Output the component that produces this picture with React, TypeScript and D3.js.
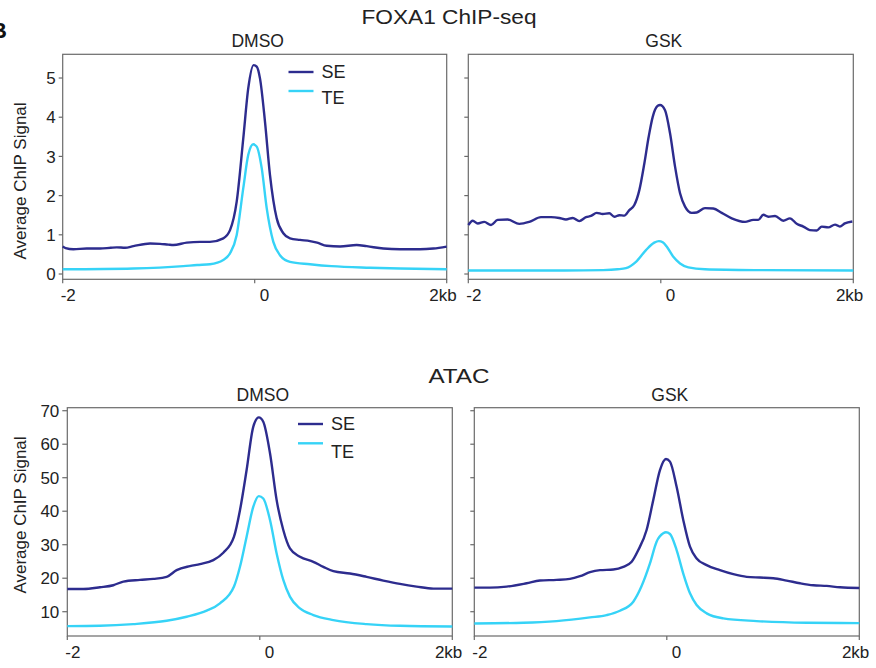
import React from "react";
import * as d3 from "d3";

// ---------- DATA ----------
const xTicks = [-2, 0, 2];
const xTickLabels = ["-2", "0", "2kb"];
const foxaTicks = [0, 1, 2, 3, 4, 5];
const atacTicks = [10, 20, 30, 40, 50, 60, 70];
const seriesNames = ["SE", "TE"];

const foxaDmsoSE: [number, number][] = [
  [-2.0, 0.70], [-1.97, 0.66], [-1.889, 0.63], [-1.75, 0.65], [-1.611, 0.65], [-1.5, 0.67],
  [-1.4375, 0.68], [-1.35, 0.67], [-1.264, 0.71], [-1.09, 0.78], [-0.986, 0.77], [-0.9, 0.75],
  [-0.847, 0.74], [-0.708, 0.80], [-0.569, 0.82], [-0.466, 0.82], [-0.327, 0.91], [-0.257, 1.12],
  [-0.188, 1.84], [-0.119, 3.46], [-0.067, 4.74], [-0.012, 5.33], [0.021, 5.29], [0.055, 4.99],
  [0.107, 3.89], [0.159, 2.53], [0.229, 1.42], [0.298, 1.04], [0.368, 0.91], [0.472, 0.87],
  [0.576, 0.84], [0.65, 0.80], [0.75, 0.72], [0.889, 0.70], [1.0625, 0.74], [1.167, 0.71],
  [1.34, 0.65], [1.514, 0.63], [1.722, 0.63], [1.861, 0.65], [2.0, 0.70],
];
const foxaDmsoTE: [number, number][] = [
  [-2, 0.12], [-1.264, 0.14], [-0.743, 0.20], [-0.6, 0.23], [-0.466, 0.25], [-0.327, 0.36],
  [-0.257, 0.53], [-0.188, 0.99], [-0.119, 2.19], [-0.067, 3.04], [-0.015, 3.31], [0.021, 3.25],
  [0.073, 2.70], [0.125, 1.68], [0.194, 0.82], [0.263, 0.48], [0.368, 0.31], [0.576, 0.25],
  [0.8, 0.20], [1.2, 0.16], [1.514, 0.14], [2, 0.12],
];
const foxaGskSE: [number, number][] = [
  [-2.0, 1.25], [-1.954, 1.36], [-1.902, 1.29], [-1.834, 1.33], [-1.764, 1.25], [-1.695, 1.38],
  [-1.591, 1.39], [-1.47, 1.28], [-1.366, 1.33], [-1.245, 1.45], [-1.141, 1.45], [-1.055, 1.43],
  [-0.985, 1.39], [-0.915, 1.43], [-0.847, 1.35], [-0.777, 1.45], [-0.725, 1.48], [-0.666, 1.56],
  [-0.604, 1.53], [-0.535, 1.55], [-0.483, 1.46], [-0.431, 1.50], [-0.379, 1.49], [-0.327, 1.63],
  [-0.275, 1.76], [-0.223, 2.14], [-0.171, 2.82], [-0.126, 3.50], [-0.084, 4.01], [-0.032, 4.29],
  [-0.008, 4.31], [0.044, 4.18], [0.096, 3.59], [0.148, 2.74], [0.2, 2.06], [0.252, 1.72],
  [0.321, 1.56], [0.373, 1.57], [0.459, 1.68], [0.545, 1.67], [0.633, 1.56], [0.737, 1.42],
  [0.875, 1.33], [0.961, 1.38], [1.013, 1.38], [1.065, 1.51], [1.117, 1.46], [1.187, 1.48],
  [1.273, 1.36], [1.342, 1.42], [1.412, 1.28], [1.481, 1.21], [1.548, 1.12], [1.62, 1.11],
  [1.672, 1.21], [1.74, 1.19], [1.81, 1.26], [1.86, 1.21], [1.912, 1.29], [1.99, 1.34],
];
const foxaGskTE: [number, number][] = [
  [-2, 0.09], [-1.0, 0.09], [-0.6, 0.10], [-0.45, 0.12], [-0.362, 0.15], [-0.258, 0.31],
  [-0.154, 0.61], [-0.068, 0.80], [-0.02, 0.84], [0.02, 0.81], [0.061, 0.70], [0.13, 0.44],
  [0.2, 0.27], [0.286, 0.17], [0.459, 0.12], [0.979, 0.10], [2, 0.09],
];
const atacDmsoSE: [number, number][] = [
  [-2, 16.8], [-1.834, 16.8], [-1.661, 17.3], [-1.522, 17.9], [-1.418, 19.0], [-1.245, 19.5],
  [-1.106, 19.8], [-0.968, 20.4], [-0.864, 22.4], [-0.726, 23.6], [-0.622, 24.2], [-0.483, 25.4],
  [-0.379, 27.6], [-0.268, 32.4], [-0.206, 40.3], [-0.137, 52.3], [-0.068, 65.2], [-0.01, 68.0],
  [0.036, 66.7], [0.106, 57.3], [0.175, 43.3], [0.244, 34.4], [0.313, 28.9], [0.417, 26.4],
  [0.556, 24.9], [0.66, 23.4], [0.764, 22.1], [0.937, 21.4], [1.11, 20.4], [1.283, 19.3],
  [1.456, 18.3], [1.629, 17.5], [1.803, 16.9], [2, 16.9],
];
const atacDmsoTE: [number, number][] = [
  [-2, 5.7], [-1.661, 5.8], [-1.314, 6.3], [-0.968, 7.3], [-0.76, 8.5], [-0.552, 10.3],
  [-0.414, 12.5], [-0.268, 17.5], [-0.206, 23.4], [-0.137, 32.4], [-0.068, 41.3], [-0.01, 44.5],
  [0.036, 43.8], [0.106, 37.4], [0.175, 27.4], [0.244, 19.5], [0.313, 14.5], [0.417, 11.0],
  [0.556, 9.0], [0.764, 7.5], [1.11, 6.3], [1.456, 5.8], [2, 5.6],
];
const atacGskSE: [number, number][] = [
  [-2, 17.2], [-1.837, 17.2], [-1.664, 17.5], [-1.456, 18.5], [-1.318, 19.3], [-1.145, 19.5],
  [-1.006, 19.8], [-0.902, 20.6], [-0.798, 21.8], [-0.694, 22.4], [-0.556, 22.6], [-0.452, 23.4],
  [-0.365, 24.9], [-0.296, 28.4], [-0.21, 34.4], [-0.141, 43.3], [-0.071, 52.3], [-0.009, 55.6],
  [0.033, 54.8], [0.102, 47.3], [0.171, 37.4], [0.241, 29.4], [0.31, 25.9], [0.414, 23.9],
  [0.552, 22.4], [0.691, 21.2], [0.83, 20.4], [0.968, 20.2], [1.106, 20.0], [1.245, 19.3],
  [1.384, 18.5], [1.522, 17.9], [1.661, 17.7], [1.799, 17.3], [2, 17.1],
];
const atacGskTE: [number, number][] = [
  [-2, 6.5], [-1.491, 6.7], [-1.145, 7.2], [-0.798, 8.3], [-0.625, 9.0], [-0.487, 10.3],
  [-0.348, 13.0], [-0.264, 17.5], [-0.175, 24.4], [-0.106, 30.9], [-0.037, 33.4], [-0.009, 33.7],
  [0.033, 33.2], [0.102, 28.4], [0.171, 21.4], [0.241, 15.5], [0.31, 12.0], [0.414, 9.5],
  [0.587, 8.0], [0.933, 7.2], [1.453, 6.7], [2, 6.6],
];

// ---------- STYLE ----------
const SE_COLOR = "#2d2c8e";
const TE_COLOR = "#36d3f7";
const FRAME = "#6a6a6a";
const FONT = "'Liberation Sans', Arial, Helvetica, sans-serif";

type PanelProps = {
  left: number; right: number; top: number; bottom: number;
  yDomain: [number, number]; yTicks: number[]; showYLabels: boolean;
  title: string; se: [number, number][]; te: [number, number][];
  legend?: { x: number; seY: number; teLineY: number; teTextY: number };
  tickLen: number;
};

function Panel(p: PanelProps) {
  const x = d3.scaleLinear().domain([-2, 2]).range([p.left, p.right]);
  const y = d3.scaleLinear().domain(p.yDomain).range([p.bottom, p.top]);
  const line = d3.line<[number, number]>()
    .x((d) => x(d[0]))
    .y((d) => y(d[1]))
    .curve(d3.curveMonotoneX);
  const cx = (p.left + p.right) / 2;
  return (
    <g>
      <text x={cx + 3} y={p.top - 7} textAnchor="middle" fontSize={17.5} fill="#222" fontFamily={FONT}>
        {p.title}
      </text>
      <rect x={p.left} y={p.top} width={p.right - p.left} height={p.bottom - p.top}
        fill="none" stroke={FRAME} strokeWidth={1.2} />
      {p.yTicks.map((t) => (
        <g key={"y" + t}>
          <line x1={p.left - p.tickLen} x2={p.left} y1={y(t)} y2={y(t)} stroke={FRAME} strokeWidth={1.2} />
          {p.showYLabels && (
            <text x={p.left - p.tickLen - 3} y={y(t)} dy="0.36em" textAnchor="end"
              fontSize={17} fill="#222" fontFamily={FONT}>{t}</text>
          )}
        </g>
      ))}
      {xTicks.map((t, i) => (
        <g key={"x" + t}>
          <line x1={x(t)} x2={x(t)} y1={p.bottom} y2={p.bottom + 4} stroke={FRAME} strokeWidth={1.2} />
          <text
            x={i === 0 ? x(t) - 2 : i === 1 ? x(t) + 5 : x(t) + 10}
            y={p.bottom + 22}
            textAnchor={i === 2 ? "end" : "start"}
            fontSize={17} fill="#222" fontFamily={FONT}>{xTickLabels[i]}</text>
        </g>
      ))}
      <path d={line(p.se) || ""} fill="none" stroke={SE_COLOR} strokeWidth={2.4} strokeLinejoin="round" />
      <path d={line(p.te) || ""} fill="none" stroke={TE_COLOR} strokeWidth={2.4} strokeLinejoin="round" />
      {p.legend && (
        <g fontFamily={FONT} fontSize={18} fill="#222">
          <line x1={p.legend.x} x2={p.legend.x + 25} y1={p.legend.seY} y2={p.legend.seY}
            stroke={SE_COLOR} strokeWidth={2.4} />
          <text x={p.legend.x + 33} y={p.legend.seY} dy="0.36em">{seriesNames[0]}</text>
          <line x1={p.legend.x} x2={p.legend.x + 25} y1={p.legend.teLineY} y2={p.legend.teLineY}
            stroke={TE_COLOR} strokeWidth={2.4} />
          <text x={p.legend.x + 33} y={p.legend.teTextY} dy="0.36em">{seriesNames[1]}</text>
        </g>
      )}
    </g>
  );
}

export default function App() {
  const foxaDomain: [number, number] = [-0.135, 5.605];
  const atacDomain: [number, number] = [2.75, 70.9];
  return (
    <svg width={876} height={668} style={{ position: "absolute", left: 0, top: 0, background: "#fff" }}
      fontFamily={FONT}>
      <rect width={876} height={668} fill="#fff" />
      <text x={-9} y={38} fontSize={22} fontWeight="bold" fill="#111">B</text>
      <text x={449} y={24} textAnchor="middle" fontSize={20.5} fill="#222" textLength={175}
        lengthAdjust="spacingAndGlyphs">FOXA1 ChIP-seq</text>
      <text x={459} y={383} textAnchor="middle" fontSize={21} fill="#222" textLength={61}
        lengthAdjust="spacingAndGlyphs">ATAC</text>

      <text transform="translate(26,181) rotate(-90)" textAnchor="middle" fontSize={17} fill="#222">
        Average ChIP Signal
      </text>
      <text transform="translate(26,515) rotate(-90)" textAnchor="middle" fontSize={17} fill="#222">
        Average ChIP Signal
      </text>

      <Panel left={62.7} right={446.7} top={54.3} bottom={279.3} yDomain={foxaDomain}
        yTicks={foxaTicks} showYLabels title="DMSO" se={foxaDmsoSE} te={foxaDmsoTE} tickLen={4}
        legend={{ x: 288.5, seY: 72, teLineY: 91, teTextY: 98 }} />
      <Panel left={468.3} right={853.3} top={54.3} bottom={279.3} yDomain={foxaDomain}
        yTicks={foxaTicks} showYLabels={false} title="GSK" se={foxaGskSE} te={foxaGskTE} tickLen={4} />
      <Panel left={67.3} right={452.3} top={407.7} bottom={636} yDomain={atacDomain}
        yTicks={atacTicks} showYLabels title="DMSO" se={atacDmsoSE} te={atacDmsoTE} tickLen={5}
        legend={{ x: 298, seY: 424, teLineY: 443.3, teTextY: 452 }} />
      <Panel left={474.3} right={859.3} top={407.7} bottom={636} yDomain={atacDomain}
        yTicks={atacTicks} showYLabels={false} title="GSK" se={atacGskSE} te={atacGskTE} tickLen={4} />
    </svg>
  );
}
